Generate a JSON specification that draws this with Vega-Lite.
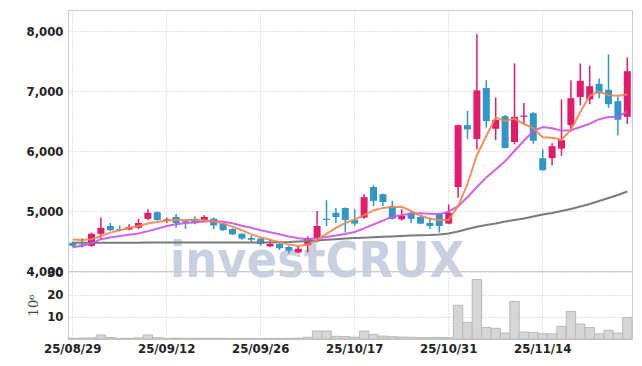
{
  "$schema": "https://vega.github.io/schema/vega-lite/v6.json",
  "background": "white",
  "padding": {"left": 25, "top": 9, "right": 10, "bottom": 5},
  "spacing": 0,
  "bounds": "flush",
  "config": {
    "view": {"stroke": "#cccccc"},
    "axis": {
      "labelFont": "DejaVu Sans Condensed",
      "labelFontWeight": "bold",
      "labelFontSize": 13,
      "labelColor": "#222222",
      "gridColor": "#c4c4d4",
      "gridDash": [1, 2],
      "domainColor": "#cccccc",
      "ticks": false,
      "labelPadding": 5
    }
  },
  "datasets": {
    "k": [
      {"d": "25/08/29", "o": 4470, "h": 4490, "l": 4400, "c": 4420, "v": 0.3, "ma5": 4525, "ma20": 4395, "ma60": 4470},
      {"d": "25/09/01", "o": 4440, "h": 4550, "l": 4390, "c": 4420, "v": 0.4, "ma5": 4515, "ma20": 4420, "ma60": 4470},
      {"d": "25/09/02", "o": 4420, "h": 4640, "l": 4400, "c": 4620, "v": 0.5, "ma5": 4530, "ma20": 4460, "ma60": 4470},
      {"d": "25/09/03", "o": 4620, "h": 4890, "l": 4540, "c": 4720, "v": 1.8, "ma5": 4580, "ma20": 4530, "ma60": 4470},
      {"d": "25/09/04", "o": 4750, "h": 4800, "l": 4670, "c": 4680, "v": 0.7, "ma5": 4640, "ma20": 4560, "ma60": 4470},
      {"d": "25/09/05", "o": 4700, "h": 4760, "l": 4660, "c": 4680, "v": 0.3, "ma5": 4680, "ma20": 4585, "ma60": 4470},
      {"d": "25/09/08", "o": 4690, "h": 4780, "l": 4680, "c": 4730, "v": 0.3, "ma5": 4720, "ma20": 4605, "ma60": 4472},
      {"d": "25/09/09", "o": 4720, "h": 4870, "l": 4700, "c": 4800, "v": 0.5, "ma5": 4750, "ma20": 4625, "ma60": 4472},
      {"d": "25/09/10", "o": 4870, "h": 5030, "l": 4850, "c": 4970, "v": 1.8, "ma5": 4790, "ma20": 4665, "ma60": 4473},
      {"d": "25/09/11", "o": 4980, "h": 4990, "l": 4840, "c": 4850, "v": 0.6, "ma5": 4815, "ma20": 4705, "ma60": 4473},
      {"d": "25/09/12", "o": 4840, "h": 4890, "l": 4800, "c": 4860, "v": 0.3, "ma5": 4840, "ma20": 4750, "ma60": 4474},
      {"d": "25/09/15", "o": 4900, "h": 4950, "l": 4720, "c": 4800, "v": 0.4, "ma5": 4850, "ma20": 4780, "ma60": 4474},
      {"d": "25/09/16", "o": 4830, "h": 4850, "l": 4700, "c": 4810, "v": 0.3, "ma5": 4850, "ma20": 4800, "ma60": 4475},
      {"d": "25/09/17", "o": 4870, "h": 4910, "l": 4780, "c": 4810, "v": 0.3, "ma5": 4850, "ma20": 4810, "ma60": 4475},
      {"d": "25/09/18", "o": 4850, "h": 4930, "l": 4820, "c": 4900, "v": 0.3, "ma5": 4845, "ma20": 4825, "ma60": 4475},
      {"d": "25/09/19", "o": 4870, "h": 4890, "l": 4700, "c": 4760, "v": 0.3, "ma5": 4830, "ma20": 4833, "ma60": 4475},
      {"d": "25/09/22", "o": 4790, "h": 4800, "l": 4670, "c": 4680, "v": 0.3, "ma5": 4790, "ma20": 4822, "ma60": 4475},
      {"d": "25/09/23", "o": 4700, "h": 4710, "l": 4600, "c": 4610, "v": 0.2, "ma5": 4740, "ma20": 4795, "ma60": 4475},
      {"d": "25/09/24", "o": 4620, "h": 4630, "l": 4520, "c": 4540, "v": 0.2, "ma5": 4680, "ma20": 4755, "ma60": 4475},
      {"d": "25/09/25", "o": 4550, "h": 4590, "l": 4470, "c": 4520, "v": 0.2, "ma5": 4610, "ma20": 4720, "ma60": 4476},
      {"d": "25/09/26", "o": 4540, "h": 4550, "l": 4420, "c": 4450, "v": 0.2, "ma5": 4560, "ma20": 4680, "ma60": 4476},
      {"d": "25/09/29", "o": 4410, "h": 4520, "l": 4400, "c": 4450, "v": 0.2, "ma5": 4520, "ma20": 4645, "ma60": 4477},
      {"d": "25/09/30", "o": 4450, "h": 4470, "l": 4350, "c": 4380, "v": 0.2, "ma5": 4480, "ma20": 4612, "ma60": 4478},
      {"d": "25/10/01", "o": 4400, "h": 4420, "l": 4290, "c": 4340, "v": 0.3, "ma5": 4440, "ma20": 4575, "ma60": 4482},
      {"d": "25/10/02", "o": 4310, "h": 4420, "l": 4300, "c": 4370, "v": 0.4, "ma5": 4415, "ma20": 4545, "ma60": 4490},
      {"d": "25/10/10", "o": 4430, "h": 4580, "l": 4310, "c": 4550, "v": 0.8, "ma5": 4440, "ma20": 4528, "ma60": 4500},
      {"d": "25/10/13", "o": 4550, "h": 5000, "l": 4480, "c": 4750, "v": 3.6, "ma5": 4520, "ma20": 4545, "ma60": 4510},
      {"d": "25/10/14", "o": 4870, "h": 5180, "l": 4750, "c": 4850, "v": 3.6, "ma5": 4620, "ma20": 4565, "ma60": 4520},
      {"d": "25/10/15", "o": 4970, "h": 5050, "l": 4800, "c": 4900, "v": 1.2, "ma5": 4720, "ma20": 4590, "ma60": 4530},
      {"d": "25/10/16", "o": 5050, "h": 5060, "l": 4640, "c": 4850, "v": 1.1, "ma5": 4800, "ma20": 4615, "ma60": 4540},
      {"d": "25/10/17", "o": 4850, "h": 5030, "l": 4750, "c": 4790, "v": 0.8, "ma5": 4860, "ma20": 4650, "ma60": 4548},
      {"d": "25/10/20", "o": 4890, "h": 5280, "l": 4870, "c": 5230, "v": 3.6, "ma5": 4930, "ma20": 4710, "ma60": 4555},
      {"d": "25/10/21", "o": 5400, "h": 5430, "l": 5080, "c": 5170, "v": 2.0, "ma5": 5010, "ma20": 4775, "ma60": 4562},
      {"d": "25/10/22", "o": 5280, "h": 5290, "l": 5080, "c": 5150, "v": 1.3, "ma5": 5050, "ma20": 4840, "ma60": 4570},
      {"d": "25/10/23", "o": 5080, "h": 5170, "l": 4860, "c": 4870, "v": 1.0, "ma5": 5065, "ma20": 4905, "ma60": 4577},
      {"d": "25/10/24", "o": 4860, "h": 5030, "l": 4840, "c": 4920, "v": 0.9, "ma5": 5070, "ma20": 4935, "ma60": 4583},
      {"d": "25/10/27", "o": 4970, "h": 4990, "l": 4800, "c": 4870, "v": 0.8, "ma5": 5000, "ma20": 4955, "ma60": 4590},
      {"d": "25/10/28", "o": 4900, "h": 4920, "l": 4780, "c": 4790, "v": 0.6, "ma5": 4920, "ma20": 4962, "ma60": 4595},
      {"d": "25/10/29", "o": 4800, "h": 4890, "l": 4700, "c": 4750, "v": 0.6, "ma5": 4870, "ma20": 4955, "ma60": 4600},
      {"d": "25/10/30", "o": 4950, "h": 4970, "l": 4640, "c": 4750, "v": 0.7, "ma5": 4850, "ma20": 4948, "ma60": 4610},
      {"d": "25/10/31", "o": 4790, "h": 5110, "l": 4780, "c": 4970, "v": 0.6, "ma5": 4855, "ma20": 4990, "ma60": 4625},
      {"d": "25/11/03", "o": 5400, "h": 6440, "l": 5220, "c": 6430, "v": 15.2, "ma5": 5080, "ma20": 5080, "ma60": 4658},
      {"d": "25/11/04", "o": 6430, "h": 6670, "l": 6200, "c": 6360, "v": 7.5, "ma5": 5450, "ma20": 5230, "ma60": 4700},
      {"d": "25/11/05", "o": 6200, "h": 7950, "l": 6030, "c": 7010, "v": 26.8, "ma5": 5930, "ma20": 5400, "ma60": 4738},
      {"d": "25/11/06", "o": 7050, "h": 7180, "l": 6390, "c": 6500, "v": 5.2, "ma5": 6250, "ma20": 5560, "ma60": 4767},
      {"d": "25/11/07", "o": 6370, "h": 6890, "l": 6180, "c": 6520, "v": 4.8, "ma5": 6560, "ma20": 5690, "ma60": 4792},
      {"d": "25/11/10", "o": 6580, "h": 6600, "l": 6040, "c": 6050, "v": 2.7, "ma5": 6500, "ma20": 5830, "ma60": 4825},
      {"d": "25/11/11", "o": 6150, "h": 7460, "l": 6110, "c": 6570, "v": 16.9, "ma5": 6540, "ma20": 6000, "ma60": 4850},
      {"d": "25/11/12", "o": 6570, "h": 6800, "l": 6450, "c": 6590, "v": 3.1, "ma5": 6450, "ma20": 6170, "ma60": 4875},
      {"d": "25/11/13", "o": 6630, "h": 6650, "l": 6120, "c": 6170, "v": 3.0, "ma5": 6380, "ma20": 6330, "ma60": 4908},
      {"d": "25/11/14", "o": 5880, "h": 6030, "l": 5670, "c": 5680, "v": 2.4, "ma5": 6230, "ma20": 6400, "ma60": 4942},
      {"d": "25/11/17", "o": 5880, "h": 6130, "l": 5760, "c": 6080, "v": 2.3, "ma5": 6220, "ma20": 6380, "ma60": 4967},
      {"d": "25/11/18", "o": 6040, "h": 6860, "l": 5920, "c": 6180, "v": 5.7, "ma5": 6190, "ma20": 6340, "ma60": 5000},
      {"d": "25/11/19", "o": 6430, "h": 7180, "l": 6330, "c": 6880, "v": 12.4, "ma5": 6350, "ma20": 6345, "ma60": 5033},
      {"d": "25/11/20", "o": 6900, "h": 7460, "l": 6760, "c": 7170, "v": 6.7, "ma5": 6650, "ma20": 6400, "ma60": 5075},
      {"d": "25/11/21", "o": 6860, "h": 7420, "l": 6780, "c": 7080, "v": 5.2, "ma5": 6920, "ma20": 6455, "ma60": 5117},
      {"d": "25/11/24", "o": 7120, "h": 7210, "l": 6880, "c": 6960, "v": 2.3, "ma5": 6990, "ma20": 6530, "ma60": 5167},
      {"d": "25/11/25", "o": 7020, "h": 7610, "l": 6720, "c": 6780, "v": 3.9, "ma5": 6930, "ma20": 6565, "ma60": 5217},
      {"d": "25/11/26", "o": 6830, "h": 6910, "l": 6260, "c": 6520, "v": 2.7, "ma5": 6920, "ma20": 6565, "ma60": 5267},
      {"d": "25/11/27", "o": 6570, "h": 7560, "l": 6450, "c": 7330, "v": 9.7, "ma5": 6940, "ma20": 6660, "ma60": 5325}
    ]
  },
  "vconcat": [
    {
      "width": 564,
      "height": 261,
      "data": {"name": "k"},
      "encoding": {
        "x": {
          "field": "d", "type": "ordinal", "sort": null,
          "scale": {"paddingInner": 0, "paddingOuter": 0},
          "axis": {"values": ["25/08/29", "25/09/12", "25/09/26", "25/10/17", "25/10/31", "25/11/14"], "labels": false, "domain": false, "title": null, "grid": true}
        }
      },
      "layer": [
        {
          "mark": {"type": "text", "font": "DejaVu Sans Condensed", "fontWeight": "bold", "fontSize": 50, "color": "#c0c8de", "opacity": 0.85, "baseline": "alphabetic", "align": "center"},
          "encoding": {
            "y": {
              "datum": 3905, "type": "quantitative",
              "scale": {"domain": [4000, 8350], "zero": false, "nice": false},
              "axis": {"values": [4000, 4500, 5000, 5500, 6000, 6500, 7000, 7500, 8000], "labelExpr": "format(datum.value, ',')", "title": null, "grid": true}
            },
            "text": {"condition": {"test": "datum.d == '25/10/13'", "value": "investCRUX"}, "value": ""}
          }
        },
        {
          "mark": {"type": "rule", "strokeWidth": 1.5},
          "encoding": {
            "y": {"field": "l", "type": "quantitative", "scale": {"domain": [4000, 8350], "zero": false, "nice": false}},
            "y2": {"field": "h"},
            "color": {"condition": {"test": "datum.c >= datum.o", "value": "#e31b6b"}, "value": "#3097c7"}
          }
        },
        {
          "mark": {"type": "bar", "size": 7},
          "encoding": {
            "y": {"field": "o", "type": "quantitative", "scale": {"domain": [4000, 8350], "zero": false, "nice": false}},
            "y2": {"field": "c"},
            "color": {"condition": {"test": "datum.c >= datum.o", "value": "#e31b6b"}, "value": "#3097c7"}
          }
        },
        {
          "mark": {"type": "line", "color": "#7a7a7a", "strokeWidth": 2},
          "encoding": {"y": {"field": "ma60", "type": "quantitative", "scale": {"domain": [4000, 8350], "zero": false, "nice": false}}}
        },
        {
          "mark": {"type": "line", "color": "#cc52e8", "strokeWidth": 2, "opacity": 0.9},
          "encoding": {"y": {"field": "ma20", "type": "quantitative", "scale": {"domain": [4000, 8350], "zero": false, "nice": false}}}
        },
        {
          "mark": {"type": "line", "color": "#ef8650", "strokeWidth": 2, "opacity": 0.9},
          "encoding": {"y": {"field": "ma5", "type": "quantitative", "scale": {"domain": [4000, 8350], "zero": false, "nice": false}}}
        }
      ]
    },
    {
      "width": 564,
      "height": 68,
      "data": {"name": "k"},
      "mark": {"type": "bar", "fill": "#d6d6d6", "stroke": "#b9b9b9", "strokeWidth": 1},
      "encoding": {
        "x": {
          "field": "d", "type": "ordinal", "sort": null,
          "scale": {"paddingInner": 0, "paddingOuter": 0},
          "axis": {"values": ["25/08/29", "25/09/12", "25/09/26", "25/10/17", "25/10/31", "25/11/14"], "title": null, "labelAngle": 0, "grid": true, "labelPadding": 3}
        },
        "y": {
          "field": "v", "type": "quantitative",
          "scale": {"domain": [0, 30.6], "nice": false},
          "axis": {"values": [10, 20, 30], "title": "10⁶", "titleFont": "DejaVu Serif", "titleFontWeight": "normal", "titleFontSize": 13, "titleColor": "#444444", "titlePadding": 6, "grid": true}
        }
      }
    }
  ]
}
